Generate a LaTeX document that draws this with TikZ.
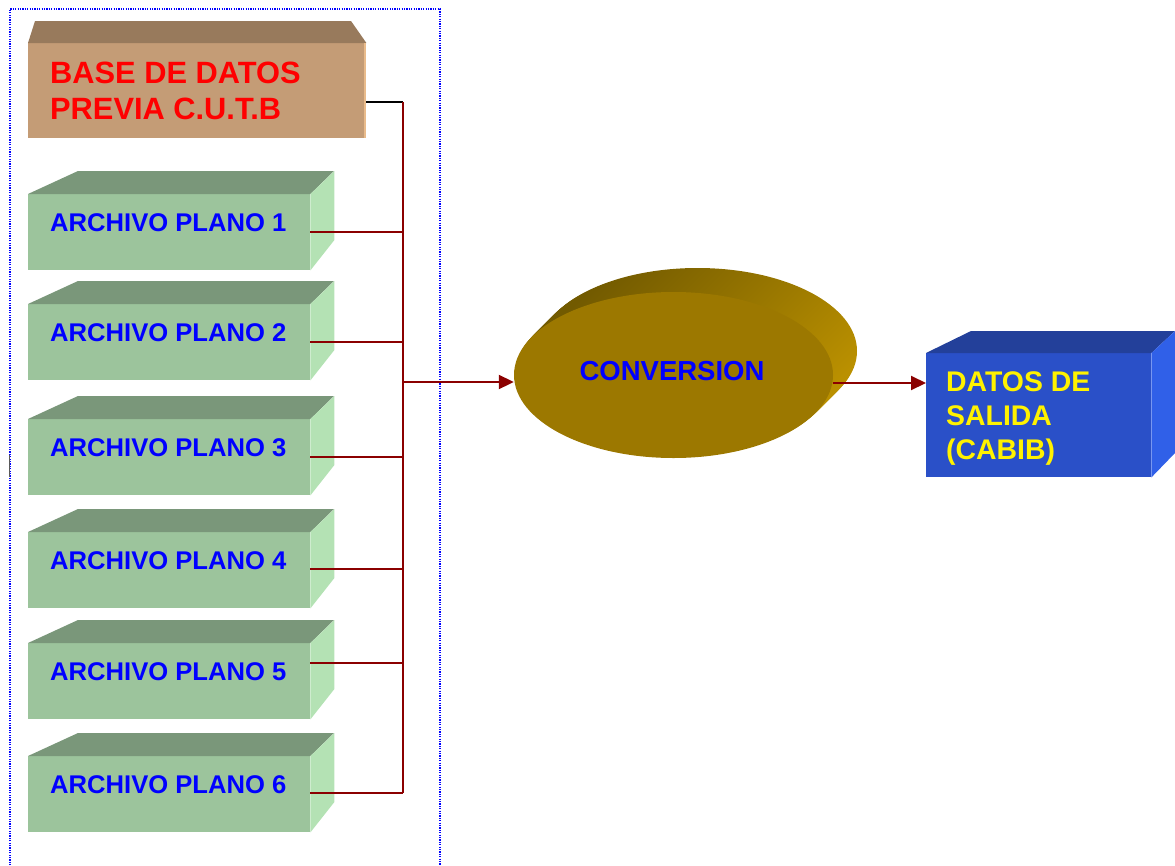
\documentclass[tikz,border=0pt]{standalone}
\usepackage{fontspec}
\setmainfont{Liberation Sans}
\usetikzlibrary{arrows.meta,shapes.geometric}

% palette
\definecolor{brownFront}{HTML}{C49C76}
\definecolor{brownTop}{HTML}{987A5C}
\definecolor{brownEdge}{HTML}{E9BB8B}
\definecolor{greenFront}{HTML}{9CC49C}
\definecolor{greenTop}{HTML}{7A977A}
\definecolor{greenSide}{HTML}{B4E2B4}
\definecolor{blueFront}{HTML}{2A50C8}
\definecolor{blueTop}{HTML}{23409A}
\definecolor{blueSide}{HTML}{3060E8}
\definecolor{convFront}{HTML}{9C7800}
\definecolor{convDark}{HTML}{725A00}
\definecolor{convLight}{HTML}{BA9000}
\definecolor{linkRed}{HTML}{8B0000}
\definecolor{frameBlue}{HTML}{0000FF}

\tikzset{
  face/.style={draw=none, inner sep=0pt, anchor=north west},
  gfront/.style={face, fill=greenFront, minimum width=282pt, minimum height=76pt},
  atext/.style={inner sep=0pt, anchor=base west, text=blue,
    font=\fontsize{25.6}{30}\selectfont\bfseries},
  link/.style={draw=linkRed, line width=2pt},
  flow/.style={link, -{Triangle[length=15pt,width=14pt]}},
  frame/.style={draw=frameBlue, line width=2pt, dash pattern=on 1.2pt off 1.2pt}
}

\begin{document}
\begin{tikzpicture}[x=1pt,y=-1pt]
\useasboundingbox (0,0) rectangle (1175,865);

% dotted group frame (open at the bottom)
\coordinate (fbl) at (10,875);
\coordinate (ftl) at (10,9);
\coordinate (ftr) at (440,9);
\coordinate (fbr) at (440,875);
\draw[frame] (fbl) -- (ftl) -- (ftr) -- (fbr);

% short grey tick on the left edge
\coordinate (tick1) at (9,455);
\coordinate (tick2) at (9,477);
\draw[gray!70!black, line width=1pt] (tick1) -- (tick2);

% source database block
\node[face, fill=brownFront, minimum width=338pt, minimum height=95pt] (base) at (28,43) {};
\fill[brownTop] (base.north west) -- (35,21) -- (351,21) -- (base.north east) -- cycle;
\draw[brownEdge, line width=2pt] ([xshift=-1pt]base.north east) -- ([xshift=-1pt]base.south east);
\node[inner sep=0pt, anchor=base west, text=red,
      font=\fontsize{30.8}{36}\selectfont\bfseries] (baset) at (50,83)
  {BASE DE DATOS};
\node[inner sep=0pt, anchor=base west, text=red,
      font=\fontsize{30.8}{36}\selectfont\bfseries] (baset2) at (50,119)
  {PREVIA C.U.T.B};

% collecting bus
\coordinate (busTop) at (403,102);
\coordinate (busBot) at (403,793);
\coordinate (busOut) at (403,382);

% flat files
\foreach \i/\y/\ly in {1/194/38, 2/304/38, 3/419/38, 4/532/37, 5/643/20, 6/756/37} {
  \node[gfront] (a\i) at (28,\y) {};
  \fill[greenTop] (a\i.north west) -- ++(50,-23) -- ++(256,0) -- (a\i.north east) -- cycle;
  \fill[greenSide] (a\i.north east) -- ++(24,-23) -- ++(0,69) -- (a\i.south east) -- cycle;
  \node[atext] (t\i) at (50,\y+37) {ARCHIVO PLANO \i};
  \coordinate (p\i) at ([yshift=-\ly pt]a\i.north east);
  \draw[link] (p\i) -- (p\i -| busTop);
}

% bus lines
\draw[black, line width=2pt] ([yshift=-59pt]base.north east) -- (busTop);
\draw[link] (busTop) -- (busBot);

% conversion disc: extruded rim, then the front face
\foreach \k in {24,...,1} {
  \shade[top color=convDark, bottom color=convLight, shading angle=45]
    (673.5+\k,375-\k) ellipse [x radius=159.5pt, y radius=83pt];
}
\node[ellipse, fill=convFront, draw=none, inner sep=0pt,
      minimum width=319pt, minimum height=166pt] (conv) at (673.5,375) {};
\node[inner sep=0pt, anchor=base, text=blue,
      font=\fontsize{27.5}{32}\selectfont\bfseries] (convt) at (672,380.5) {CONVERSION};

\draw[flow] (busOut) -- (busOut -| conv.west);

% output block
\node[face, fill=blueFront, minimum width=225pt, minimum height=124pt] (out) at (926,353) {};
\fill[blueTop] (out.north west) -- ++(45,-22) -- (1175,331) -- (out.north east) -- cycle;
\fill[blueSide] (out.north east) -- (1175,331) -- (1175,453) -- (out.south east) -- cycle;
\node[inner sep=0pt, anchor=north west, text=yellow, align=left,
      font=\fontsize{28.4}{34}\selectfont\bfseries] (outt) at (946,371)
  {DATOS DE\\SALIDA\\(CABIB)};

\coordinate (convOut) at (833,383);
\draw[flow] (convOut) -- (convOut -| out.west);
\end{tikzpicture}
\end{document}
